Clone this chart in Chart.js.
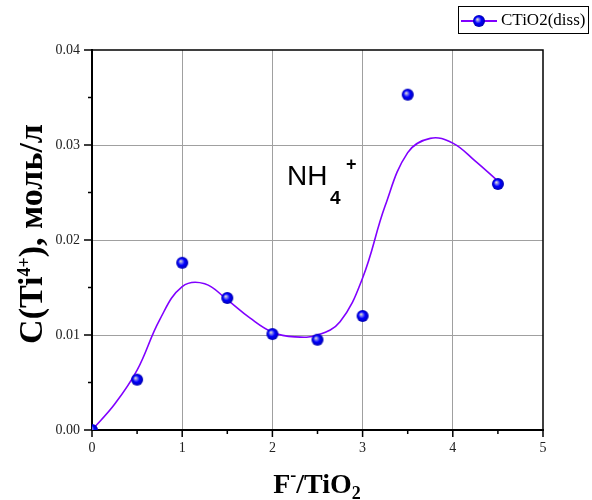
<!DOCTYPE html>
<html lang="ru">
<head>
<meta charset="UTF-8">
<title>C(Ti4+) vs F-/TiO2</title>
<script src="https://cdn.jsdelivr.net/npm/chart.js"></script>
<style>
  body { margin: 0; background: #fff; }
  #wrap { width: 592px; height: 500px; }
</style>
</head>
<body>
<div id="wrap"><canvas id="chart" width="592" height="500"></canvas></div>
<script>
// measured points
const ratioX = [0, 0.5, 1, 1.5, 2, 2.5, 3, 3.5, 4.5];
const concY = [0, 0.0053, 0.0176, 0.0139, 0.0101, 0.0095, 0.0120, 0.0353, 0.0259];

// fitted curve, every 0.25
const curveX = [0, 0.25, 0.5, 0.75, 1.0, 1.25, 1.5, 1.75, 2.0, 2.25, 2.5, 2.75, 3.0, 3.25, 3.5, 3.75, 4.0, 4.25, 4.5];
const curveY = [0, 0.0027, 0.0063, 0.0116, 0.0151, 0.0154, 0.0137, 0.0118, 0.0103, 0.0098, 0.0100, 0.0114, 0.0160, 0.0236, 0.0292, 0.0307, 0.0302, 0.0283, 0.0262];

const xTicks = [0, 1, 2, 3, 4, 5];
const yTicks = [0, 0.01, 0.02, 0.03, 0.04];

const seriesName = 'CTiO2(diss)';
const lineColor = '#8000ff';

// blue ball marker
function makeBall(r) {
  const c = document.createElement('canvas');
  c.width = c.height = r * 2 + 2;
  const g = c.getContext('2d');
  const m = r + 1;
  const grad = g.createRadialGradient(m - r * 0.3, m - r * 0.3, 0, m, m, r);
  grad.addColorStop(0, '#f4f0c0');
  grad.addColorStop(0.25, '#8080f0');
  grad.addColorStop(0.55, '#0000ff');
  grad.addColorStop(1, '#0000b0');
  g.fillStyle = grad;
  g.beginPath();
  g.arc(m, m, r, 0, Math.PI * 2);
  g.fill();
  return c;
}
const ball = makeBall(6);

const curveData = curveX.map((x, i) => ({ x: x, y: curveY[i] }));
const pointData = ratioX.map((x, i) => ({ x: x, y: concY[i] }));

const extras = {
  id: 'extras',
  afterDraw(chart) {
    const ctx = chart.ctx;
    const a = chart.chartArea;
    const xs = chart.scales.x, ys = chart.scales.y;
    ctx.save();

    // top and right frame
    ctx.strokeStyle = '#000';
    ctx.lineWidth = 1.5;
    ctx.beginPath();
    ctx.moveTo(a.left, a.top);
    ctx.lineTo(a.right, a.top);
    ctx.lineTo(a.right, a.bottom);
    ctx.stroke();

    // tick marks, major and minor
    ctx.lineWidth = 1.5;
    ctx.beginPath();
    for (let v = 0; v <= 5.001; v += 0.5) {
      const px = xs.getPixelForValue(v);
      const len = Math.abs(v - Math.round(v)) < 1e-6 ? 7 : 4;
      ctx.moveTo(px, a.bottom);
      ctx.lineTo(px, a.bottom + len);
    }
    for (let v = 0; v <= 0.04001; v += 0.005) {
      const py = ys.getPixelForValue(v);
      const len = Math.abs(v * 100 - Math.round(v * 100)) < 1e-6 ? 8 : 4;
      ctx.moveTo(a.left, py);
      ctx.lineTo(a.left - len, py);
    }
    ctx.stroke();

    // y axis title
    ctx.fillStyle = '#000';
    ctx.textBaseline = 'alphabetic';
    const big = 'bold 34px "Liberation Serif"';
    const sup = 'bold 18px "Liberation Serif"';
    const parts = [['C(Ti', big, 0], ['4+', sup, -12], ['), моль/л', big, 0]];
    let total = 0;
    parts.forEach(p => { ctx.font = p[1]; total += ctx.measureText(p[0]).width; });
    ctx.translate(42, 234);
    ctx.rotate(-Math.PI / 2);
    let cx = -total / 2;
    parts.forEach(p => {
      ctx.font = p[1];
      ctx.fillText(p[0], cx, p[2]);
      cx += ctx.measureText(p[0]).width;
    });
    ctx.setTransform(1, 0, 0, 1, 0, 0);
    const dpr = chart.currentDevicePixelRatio || 1;
    ctx.scale(dpr, dpr);

    // x axis title
    const xt = [['F', 'bold 28px "Liberation Serif"', 0], ['-', 'bold 18px "Liberation Serif"', -12],
                ['/TiO', 'bold 28px "Liberation Serif"', 0], ['2', 'bold 18px "Liberation Serif"', 6]];
    total = 0;
    xt.forEach(p => { ctx.font = p[1]; total += ctx.measureText(p[0]).width; });
    cx = 317 - total / 2;
    xt.forEach(p => {
      ctx.font = p[1];
      ctx.fillText(p[0], cx, 493 + p[2]);
      cx += ctx.measureText(p[0]).width;
    });

    // NH4+ label
    ctx.font = '28px "Liberation Sans"';
    ctx.fillText('NH', 287, 185);
    ctx.font = 'bold 19px "Liberation Sans"';
    ctx.fillText('4', 330, 204);
    ctx.font = 'bold 18px "Liberation Sans"';
    ctx.fillText('+', 346, 170);

    // legend box
    ctx.strokeStyle = '#000';
    ctx.lineWidth = 1;
    ctx.strokeRect(458.5, 6.5, 130, 27);
    ctx.strokeStyle = lineColor;
    ctx.lineWidth = 2;
    ctx.beginPath();
    ctx.moveTo(461, 21);
    ctx.lineTo(497, 21);
    ctx.stroke();
    ctx.drawImage(ball, 479 - ball.width / 2, 21 - ball.height / 2);
    ctx.fillStyle = '#000';
    ctx.font = '17px "Liberation Serif"';
    ctx.textBaseline = 'middle';
    ctx.fillText(seriesName, 501, 21);

    ctx.restore();
  }
};

new Chart(document.getElementById('chart'), {
  type: 'scatter',
  data: {
    datasets: [
      {
        label: 'fit',
        data: curveData,
        showLine: true,
        borderColor: lineColor,
        borderWidth: 1.6,
        pointRadius: 0,
        tension: 0.4,
        order: 2
      },
      {
        label: seriesName,
        data: pointData,
        pointStyle: ball,
        pointRadius: 6,
        order: 1
      }
    ]
  },
  options: {
    responsive: false,
    animation: false,
    layout: { padding: { top: 50, right: 49, left: 0, bottom: 0 } },
    plugins: { legend: { display: false }, tooltip: { enabled: false } },
    scales: {
      x: {
        min: 0, max: 5,
        afterFit: s => { s.height = 70; },
        afterBuildTicks: s => { s.ticks = xTicks.map(v => ({ value: v })); },
        ticks: { font: { family: 'Liberation Serif', size: 14 }, color: '#222', padding: 10 },
        grid: {
          drawTicks: false,
          color: c => (c.tick && (c.tick.value === 0 || c.tick.value === 5)) ? 'rgba(0,0,0,0)' : '#a0a0a0',
          lineWidth: 1
        },
        border: { color: '#000', width: 2 }
      },
      y: {
        min: 0, max: 0.04,
        afterFit: s => { s.width = 92; },
        afterBuildTicks: s => { s.ticks = yTicks.map(v => ({ value: v })); },
        ticks: {
          font: { family: 'Liberation Serif', size: 14 }, color: '#222', padding: 12,
          callback: v => v.toFixed(2)
        },
        grid: {
          drawTicks: false,
          color: c => (c.tick && (c.tick.value === 0 || c.tick.value === 0.04)) ? 'rgba(0,0,0,0)' : '#a0a0a0',
          lineWidth: 1
        },
        border: { color: '#000', width: 2 }
      }
    }
  },
  plugins: [extras]
});
</script>
</body>
</html>
